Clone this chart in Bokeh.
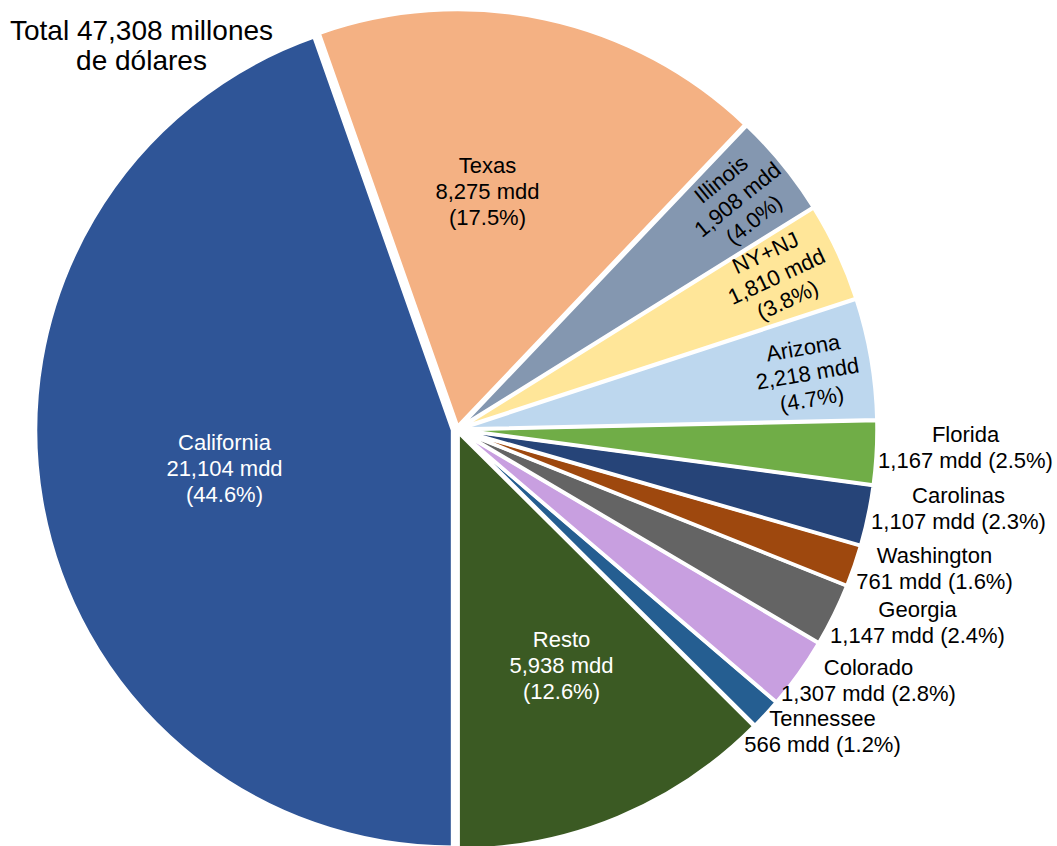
import math
from bokeh.plotting import figure
from bokeh.models import ColumnDataSource, Range1d
from bokeh.core.properties import value
from bokeh.embed import file_html
from bokeh.resources import INLINE

# ---- data (counter-clockwise from 6 o'clock) ----
names = ["Resto", "Tennessee", "Colorado", "Georgia", "Washington", "Carolinas",
         "Florida", "Arizona", "NY+NJ", "Illinois", "Texas", "California"]
values = [5938, 566, 1307, 1147, 761, 1107, 1167, 2218, 1810, 1908, 8275, 21104]
value_labels = ["5,938", "566", "1,307", "1,147", "761", "1,107",
                "1,167", "2,218", "1,810", "1,908", "8,275", "21,104"]
pct_labels = ["12.6%", "1.2%", "2.8%", "2.4%", "1.6%", "2.3%",
              "2.5%", "4.7%", "3.8%", "4.0%", "17.5%", "44.6%"]
colors = ["#3B5A23", "#255E91", "#C89FE0", "#646464", "#9E480E", "#264478",
          "#70AD47", "#BDD7EE", "#FFE699", "#8497B0", "#F4B183", "#2F5597"]
title_text = "Total 47,308 millones\nde dólares"

# ---- layout (picture pixel coordinates, origin top-left of figure) ----
W, H = 1057, 846
def X(px):
    return px
def Y(py):
    return H - py

CX, CY = 456.5, 429.0
R = 417.0
EXPLODE = {"California": 4.5}
EXPLODE_DEFAULT = 3.0

# label placement: name -> (x, y, inside/outside, rotate?, color)
label_pos = {
    "California": (224, 468, "inside", False, "white"),
    "Texas": (487, 191, "inside", False, "black"),
    "Resto": (561, 665, "inside", False, "white"),
    "Illinois": (737, 199, "inside", True, "black"),
    "NY+NJ": (776, 276, "inside", True, "black"),
    "Arizona": (807, 373, "inside", True, "black"),
    "Florida": (965, 447, "outside", False, "black"),
    "Carolinas": (958, 508, "outside", False, "black"),
    "Washington": (934, 568, "outside", False, "black"),
    "Georgia": (917, 622, "outside", False, "black"),
    "Colorado": (868, 680, "outside", False, "black"),
    "Tennessee": (822, 731, "outside", False, "black"),
}

total = sum(values)
start = -math.pi / 2
xs, ys, starts, ends, mids = [], [], [], [], []
cum = 0
for n, v in zip(names, values):
    a0 = start + 2 * math.pi * cum / total
    cum += v
    a1 = start + 2 * math.pi * cum / total
    m = (a0 + a1) / 2
    d = EXPLODE.get(n, EXPLODE_DEFAULT)
    xs.append(X(CX) + d * math.cos(m))
    ys.append(Y(CY) + d * math.sin(m))
    starts.append(a0)
    ends.append(a1)
    mids.append(m)

src = ColumnDataSource(dict(x=xs, y=ys, start=starts, end=ends, color=colors))

p = figure(width=W, height=H, output_backend="svg", toolbar_location=None,
           x_range=Range1d(0, W), y_range=Range1d(0, H),
           x_axis_location=None, y_axis_location=None, min_border=0,
           background_fill_color="white", border_fill_color="white")
p.grid.visible = False
p.outline_line_color = None

p.wedge(x="x", y="y", radius=R, start_angle="start", end_angle="end",
        fill_color="color", line_color="white", line_width=3.5, source=src)

# labels
for i, n in enumerate(names):
    lx, ly, kind, rot, col = label_pos[n]
    if kind == "inside":
        txt = f"{n}\n{value_labels[i]} mdd\n({pct_labels[i]})"
    else:
        txt = f"{n}\n{value_labels[i]} mdd ({pct_labels[i]})"
    ang = mids[i] if rot else 0.0
    p.text(x=[X(lx)], y=[Y(ly)], text=[txt], angle=ang,
           text_align="center", text_baseline="middle",
           text_font=value("Liberation Sans"), text_font_size="22px",
           text_line_height=1.04, text_color=col)

p.text(x=[X(141)], y=[Y(45)], text=[title_text],
       text_align="center", text_baseline="middle",
       text_font=value("Liberation Sans"), text_font_size="28px",
       text_line_height=0.96, text_color="black")

open("out.html", "w").write(file_html(p, INLINE))
